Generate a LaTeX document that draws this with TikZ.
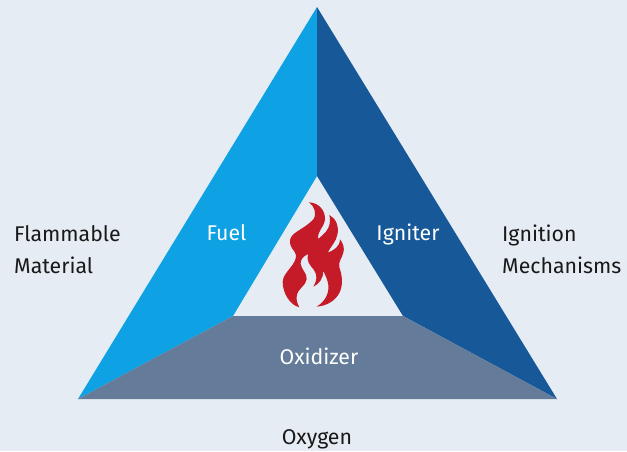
\documentclass[tikz,border=0pt]{standalone}
\usepackage{fontspec}
\setmainfont{Fira Sans}
\definecolor{bgc}{HTML}{E6ECF3}
\definecolor{fuelc}{HTML}{0EA1E4}
\definecolor{ignc}{HTML}{175899}
\definecolor{oxc}{HTML}{647B99}
\definecolor{flamec}{HTML}{C51A28}
\tikzset{
  outer/.style={text=black!90,anchor=base west,inner sep=0pt,font=\fontsize{21.3pt}{24pt}\selectfont},
  inner/.style={text=white,anchor=base,inner sep=0pt,font=\fontsize{21.3pt}{24pt}\selectfont}
}
\begin{document}
\begin{tikzpicture}[x=1pt,y=-1pt]
\useasboundingbox (0,0) rectangle (627,451);
\fill[bgc] (0,0) rectangle (627,451);
\coordinate (A) at (317,7);
\coordinate (L) at (78,399);
\coordinate (R) at (557,399);
\coordinate (a) at (317,176);
\coordinate (l) at (233,316);
\coordinate (r) at (403,316);
\fill[fuelc] (A) -- (a) -- (l) -- (L) -- cycle;
\fill[ignc] (A) -- (R) -- (r) -- (a) -- cycle;
\fill[oxc] (L) -- (l) -- (r) -- (R) -- cycle;
\begin{scope}[shift={(260,180)},x=0.3333pt,y=-0.3333pt]
\fill[flamec] (147,67)
  .. controls (175,68) and (197,90) .. (195,120)
  .. controls (193,140) and (170,155) .. (175,177)
  .. controls (185,165) and (218,150) .. (208,105)
  .. controls (228,115) and (238,140) .. (232,165)
  .. controls (228,185) and (212,200) .. (203,218)
  .. controls (220,212) and (240,200) .. (240,178)
  .. controls (250,190) and (254,205) .. (250,218)
  .. controls (246,235) and (234,245) .. (238,262)
  .. controls (246,285) and (250,310) .. (240,335)
  .. controls (228,362) and (200,378) .. (170,380)
  .. controls (195,365) and (208,340) .. (205,315)
  .. controls (203,298) and (195,285) .. (190,272)
  .. controls (190,295) and (178,312) .. (160,320)
  .. controls (172,300) and (172,285) .. (162,270)
  .. controls (150,255) and (138,245) .. (145,222)
  .. controls (130,228) and (120,240) .. (122,252)
  .. controls (125,270) and (142,280) .. (140,298)
  .. controls (138,318) and (112,325) .. (110,350)
  .. controls (109,362) and (113,373) .. (118,382)
  .. controls (90,375) and (68,340) .. (68,305)
  .. controls (70,275) and (110,255) .. (108,225)
  .. controls (105,210) and (88,205) .. (90,180)
  .. controls (95,155) and (130,150) .. (160,118)
  .. controls (172,100) and (162,78) .. (147,67) -- cycle;
\end{scope}
\node[inner] (fuel) at (226.5,240) {Fuel};
\node[inner] (igniter) at (408,240) {Igniter};
\node[inner] (oxidizer) at (319,364) {Oxidizer};
\node[outer] (flam1) at (14,241) {Flammable};
\node[outer] (flam2) at (14,273) {Material};
\node[outer] (ign1) at (502,241) {Ignition};
\node[outer] (ign2) at (502,273) {Mechanisms};
\node[inner,text=black!90] (oxygen) at (317,444) {Oxygen};
\end{tikzpicture}
\end{document}
